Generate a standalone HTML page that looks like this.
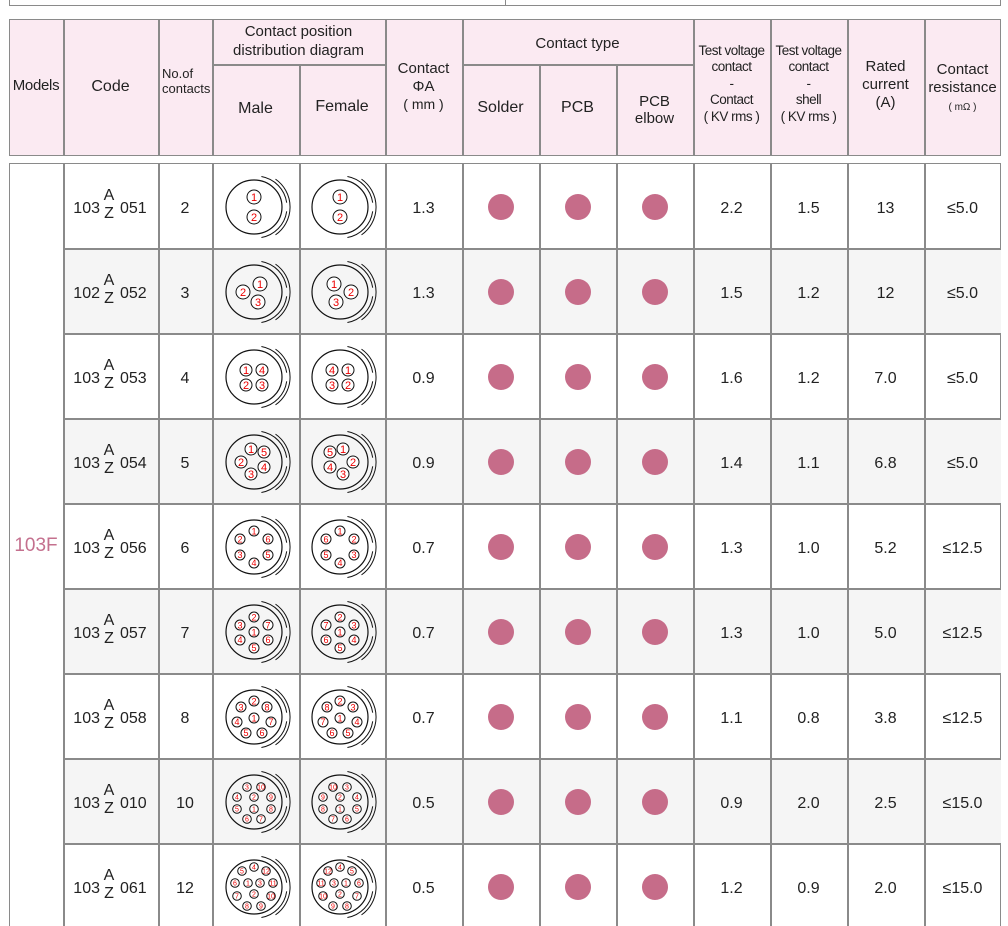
<!DOCTYPE html>
<html><head><meta charset="utf-8">
<style>
html,body{margin:0;width:1008px;height:926px;overflow:hidden}
body{background:#fff;position:relative;font-family:"Liberation Sans",sans-serif;color:#222}
.a{position:absolute;box-sizing:border-box}
.t{position:absolute;text-align:center;white-space:nowrap;line-height:1.2}
</style></head><body>
<div id="root"></div>
<script>
var R=document.getElementById('root');var H='';
function box(x,y,w,h,st){H+='<div class="a" style="left:'+x+'px;top:'+y+'px;width:'+w+'px;height:'+h+'px;'+st+'"></div>';}
function txt(x,y,w,s,st){H+='<div class="t" style="left:'+x+'px;top:'+y+'px;width:'+w+'px;'+(st||'')+'">'+s+'</div>';}
var C=[9,63,158,212,299,385,462,539,616,693,770,847,924,1001];
var LC='#8a8a8a';
box(9,-10,992,16,'border:1.5px solid '+LC);
box(505,-10,1,16,'background:'+LC);
box(9,19,992,137,'background:#fbeaf2;border:1.5px solid '+LC);
for(var i=1;i<13;i++){var sub=(i==4||i==7||i==8);box(C[i],sub?64:19,1.5,sub?92:137,'background:'+LC);}
box(212,64,173,1.5,'background:'+LC);box(462,64,231,1.5,'background:'+LC);
var f='font-size:16px;';
txt(9,77,54,'Models','font-size:15px;letter-spacing:-0.3px');
txt(63,77,95,'Code',f);
txt(158,67,54,'No.of<br>contacts','font-size:13px;text-align:left;left:162px;line-height:1.15');
txt(212,23,173,'Contact position<br>distribution diagram','font-size:15px;line-height:1.25');
txt(212,99,87,'Male',f);txt(299,97,86,'Female',f);
txt(385,60,77,'Contact<br>ΦA<br><span style="font-size:14px">( mm )</span>','font-size:15px;line-height:1.2');
txt(462,35,231,'Contact type','font-size:15px');
txt(462,98,77,'Solder',f);txt(539,98,77,'PCB',f);txt(616,93,77,'PCB<br>elbow','font-size:15px;line-height:1.15');
txt(693,43,77,'Test voltage<br>contact<br>-<br>Contact<br>( KV rms )','font-size:13.5px;line-height:1.22;letter-spacing:-0.5px');
txt(770,43,77,'Test voltage<br>contact<br>-<br>shell<br>( KV rms )','font-size:13.5px;line-height:1.22;letter-spacing:-0.5px');
txt(847,58,77,'Rated<br>current<br>(A)','font-size:15px;line-height:1.2');
txt(924,61,77,'Contact<br>resistance<br><span style="font-size:10px">( mΩ )</span>','font-size:15px;line-height:1.2');
var rows=[
['103','051','2','1.3','2.2','1.5','13','≤5.0'],
['102','052','3','1.3','1.5','1.2','12','≤5.0'],
['103','053','4','0.9','1.6','1.2','7.0','≤5.0'],
['103','054','5','0.9','1.4','1.1','6.8','≤5.0'],
['103','056','6','0.7','1.3','1.0','5.2','≤12.5'],
['103','057','7','0.7','1.3','1.0','5.0','≤12.5'],
['103','058','8','0.7','1.1','0.8','3.8','≤12.5'],
['103','010','10','0.5','0.9','2.0','2.5','≤15.0'],
['103','061','12','0.5','1.2','0.9','2.0','≤15.0']];
var pins={
2:[[0,-10,'1'],[0,10,'2']],
3:[[6,-8,'1'],[-11,0,'2'],[4,10,'3']],
4:[[-8,-7,'1'],[8,-7,'4'],[-8,8,'2'],[8,8,'3']],
5:[[-3,-13,'1'],[10,-10,'5'],[-13,0,'2'],[10,5,'4'],[-3,12,'3']],
6:[[0,-16,'1'],[-14,-8,'2'],[14,-8,'6'],[-14,8,'3'],[14,8,'5'],[0,16,'4']],
7:[[0,-15,'2'],[-14,-7,'3'],[14,-7,'7'],[0,0,'1'],[-14,8,'4'],[14,8,'6'],[0,16,'5']],
8:[[0,-16,'2'],[-13,-10,'3'],[13,-10,'8'],[-17,5,'4'],[0,1,'1'],[17,5,'7'],[-8,16,'5'],[8,16,'6']],
10:[[-7,-15,'3'],[7,-15,'10'],[-17,-5,'4'],[0,-5,'2'],[17,-5,'9'],[-17,7,'5'],[0,7,'1'],[17,7,'8'],[-7,17,'6'],[7,17,'7']],
12:[[0,-20,'4'],[-12,-16,'5'],[12,-16,'12'],[-19,-4,'6'],[-6,-4,'1'],[6,-4,'3'],[19,-4,'11'],[-17,9,'7'],[0,7,'2'],[17,9,'10'],[-7,19,'8'],[7,19,'9']]};
function arc(r,a0,a1){var p=Math.PI/180;return 'M'+(r*Math.cos(a0*p)).toFixed(1)+' '+(r*Math.sin(a0*p)).toFixed(1)+' A'+r+' '+r+' 0 0 1 '+(r*Math.cos(a1*p)).toFixed(1)+' '+(r*Math.sin(a1*p)).toFixed(1);}
function diag(n,mir,cx,cy){
 var ps=pins[n];var pr=n<=3?7:(n<=5?6:(n<=8?5:4.3));var fs=n<=5?11:(n<=8?9:7);
 var s='<svg class="a" style="left:'+(cx-40)+'px;top:'+(cy-40)+'px" width="80" height="80" viewBox="-40 -40 80 80">';
 s+='<ellipse cx="-2" cy="0" rx="28" ry="27" fill="none" stroke="#111" stroke-width="1.2"/>';
 s+='<path d="'+arc(31,-80,-8)+'" fill="none" stroke="#111" stroke-width="1"/>';
 s+='<path d="'+arc(31,8,80)+'" fill="none" stroke="#111" stroke-width="1"/>';
 s+='<path d="'+arc(34,-55,55)+'" fill="none" stroke="#111" stroke-width="1"/>';
 for(var i=0;i<ps.length;i++){var x=ps[i][0]*(mir?-1:1)-2,y=ps[i][1];
  s+='<circle cx="'+x+'" cy="'+y+'" r="'+pr+'" fill="#fff" stroke="#111" stroke-width="1"/>';
  s+='<text x="'+x+'" y="'+(y+fs*0.36)+'" font-size="'+fs+'" fill="#e00" text-anchor="middle" font-family="Liberation Sans,sans-serif">'+ps[i][2]+'</text>';}
 return s+'</svg>';}
var top0=163,rh=85;
box(9,top0,992,800,'border:1.5px solid '+LC);
for(var r=0;r<9;r++){
 var y=top0+r*rh,cy=y+rh/2,d=rows[r];
 if(r%2==1)box(63,y,938,rh,'background:#f5f5f5');
 if(r>0)box(63,y,938,1.5,'background:'+LC);
 txt(66,cy-7,34,d[0],'font-size:16px;text-align:right');
 txt(102,cy-20,14,'A','font-size:16px');txt(102,cy-2,14,'Z','font-size:16px');
 txt(120,cy-7,32,d[1],'font-size:16px;text-align:left');
 txt(158,cy-7,54,d[2],f);
 H+=diag(+d[2],false,256,cy+1);H+=diag(+d[2],true,342,cy+1);
 txt(385,cy-7,77,d[3],f);
 for(var k=0;k<3;k++)box(C[6+k]+(77/2)-13,cy-12,26,26,'border-radius:50%;background:#c66c89');
 txt(693,cy-7,77,d[4],f);txt(770,cy-7,77,d[5],f);txt(847,cy-7,77,d[6],f);txt(924,cy-7,77,d[7],f);
}
for(var i=1;i<13;i++)box(C[i],top0,1.5,800,'background:'+LC);
txt(9,535,54,'103F','font-size:19px;color:#c4708e');
R.innerHTML=H;
</script>
</body></html>
